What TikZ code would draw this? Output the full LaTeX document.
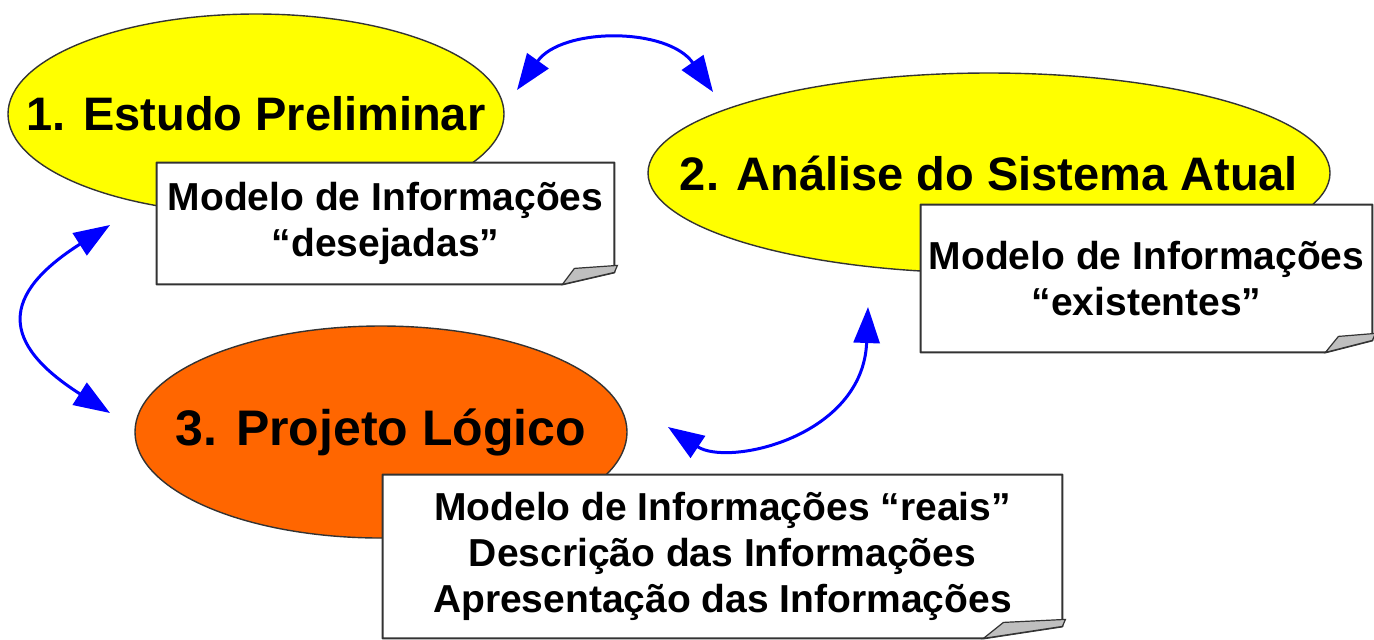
\documentclass[tikz,border=0pt]{standalone}
\usepackage{fontspec}
\setmainfont{Liberation Sans}
\usetikzlibrary{calc,shapes.geometric,arrows.meta,positioning}
\definecolor{amarelo}{RGB}{255,255,0}
\definecolor{laranja}{RGB}{255,102,0}
\definecolor{azul}{RGB}{0,0,255}
\tikzset{seta/.style={azul,line width=1.5pt,{Triangle[length=18pt,width=13pt]}-{Triangle[length=18pt,width=13pt]}}}

\begin{document}
\begin{tikzpicture}[x=0.5pt,y=-0.5pt]

\tikzset{yellownode/.style={shape=ellipse,fill=amarelo,draw=black!80,line width=0.7pt,inner sep=0pt,font=\bfseries\fontsize{23.5}{28}\selectfont},
orangenode/.style={yellownode,fill=laranja,font=\bfseries\fontsize{25}{30}\selectfont},
notenode/.style={shape=rectangle,fill=white,inner sep=0pt,align=center,font=\bfseries\fontsize{19.5}{23}\selectfont},
noteedge/.style={draw=black!80,line width=1pt,line join=round}}

\useasboundingbox (0,0) rectangle (1374,639);

% Ellipses (text in a zero-width box so the size comes from the minimum)
\node[yellownode,minimum width=248pt,minimum height=100pt] (e1) at (256,114) {\makebox[0pt]{1. Estudo Preliminar}};
\node[yellownode,minimum width=341pt,minimum height=100pt] (e2) at (989,173) {\makebox[0pt]{2. Análise do Sistema Atual}};
\node[orangenode,minimum width=246pt,minimum height=106pt] (e3) at (381,432) {\makebox[0pt]{3. Projeto Lógico}};

% Notes
\node[notenode,minimum width=228.5pt,minimum height=60.5pt] (n1) at (385.5,223.5) {Modelo de Informações\\“desejadas”};
\node[notenode,minimum width=225.5pt,minimum height=73.5pt] (n2) at (1146.5,278.5) {Modelo de Informações\\“existentes”};
\node[notenode,minimum width=339.5pt,minimum height=81.5pt] (n3) at (722.5,556.5) {Modelo de Informações “reais”\\Descrição das Informações\\Apresentação das Informações};

% note edges with folded corner
\foreach \n/\w/\b in {n1/52/12,n2/47/13,n3/79/20} {
  \draw[noteedge] (\n.north west) -- (\n.north east) -- ($(\n.south east)+(0,-12)$) -- ($(\n.south east)+(-\w,0)$) -- (\n.south west) -- cycle;
  \filldraw[fill=black!25,draw=black!80,line width=0.6pt] ($(\n.south east)+(-\w,0)$) -- ++(\b,-16) -- ($(\n.south east)+(3,-19)$) -- ($(\n.south east)+(0,-12)$) -- cycle;
}

% Arrows
\draw[seta] ($(e1.center)+(261,-24)$) .. controls +(45,-63) and +(-45,-65) .. ($(e2.center)+(-276,-81)$);
\draw[seta] ($(e1.center)+(-146,111)$) .. controls +(-110,70) and +(-110,-70) .. ($(e3.center)+(-271,-19)$);
\draw[seta] ($(e3.center)+(287,-5)$) .. controls +(60,40) and +(-5,130) .. ($(e2.center)+(-121,134)$);

\end{tikzpicture}
\end{document}
